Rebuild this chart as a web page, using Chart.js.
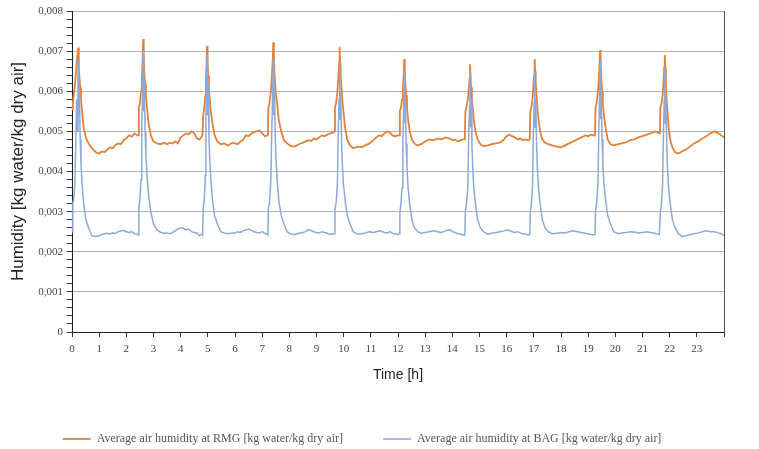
<!DOCTYPE html>
<html lang="en">
<head>
<meta charset="UTF-8">
<title>Humidity over 24 h</title>
<script src="https://cdn.jsdelivr.net/npm/chart.js"></script>
<style>
  body { margin: 0; background: #fff; }
  #wrap { width: 759px; height: 449px; }
</style>
</head>
<body>
<div id="wrap"><canvas id="humChart" width="759" height="449"></canvas></div>
<script>
// time axis [h], one row per drying cycle
const hours = [
  0, 0.03, 0.06, 0.1, 0.14, 0.17, 0.2, 0.22, 0.23, 0.25, 0.27, 0.3, 0.33, 0.37, 0.43, 0.51, 0.61, 0.73, 0.88, 1.0, 1.1, 1.2, 1.3, 1.4, 1.5, 1.6, 1.7, 1.8, 1.9, 2.0, 2.1, 2.2, 2.3, 2.4,
  2.44, 2.46, 2.5, 2.54, 2.57, 2.6, 2.62, 2.64, 2.66, 2.69, 2.72, 2.76, 2.82, 2.9, 3.0, 3.12, 3.27, 3.4, 3.5, 3.6, 3.7, 3.8, 3.9, 4.0, 4.1, 4.2, 4.3, 4.4, 4.5, 4.6, 4.7, 4.8,
  4.81, 4.83, 4.87, 4.91, 4.93, 4.95, 4.97, 4.99, 5.01, 5.04, 5.07, 5.11, 5.17, 5.25, 5.35, 5.47, 5.6, 5.75, 5.9, 6.0, 6.1, 6.2, 6.3, 6.4, 6.5, 6.6, 6.7, 6.8, 6.9, 7.0, 7.1, 7.2,
  7.21, 7.23, 7.27, 7.32, 7.36, 7.39, 7.41, 7.43, 7.45, 7.48, 7.51, 7.55, 7.61, 7.7, 7.8, 7.92, 8.05, 8.2, 8.35, 8.5, 8.6, 8.7, 8.8, 8.9, 9.0, 9.1, 9.2, 9.3, 9.4, 9.5, 9.6,
  9.66, 9.68, 9.72, 9.77, 9.8, 9.83, 9.85, 9.87, 9.89, 9.92, 9.95, 9.99, 10.05, 10.13, 10.23, 10.35, 10.5, 10.65, 10.8, 10.95, 11.1, 11.2, 11.3, 11.4, 11.5, 11.6, 11.7, 11.8, 11.9, 12.0,
  12.05, 12.07, 12.11, 12.15, 12.18, 12.21, 12.23, 12.25, 12.27, 12.3, 12.33, 12.37, 12.43, 12.51, 12.6, 12.72, 12.85, 13.0, 13.15, 13.3, 13.45, 13.6, 13.75, 13.9, 14.0, 14.1, 14.2, 14.3, 14.4,
  14.46, 14.48, 14.52, 14.57, 14.6, 14.63, 14.65, 14.67, 14.69, 14.72, 14.75, 14.79, 14.85, 14.93, 15.03, 15.15, 15.3, 15.45, 15.6, 15.75, 15.9, 16.0, 16.1, 16.2, 16.3, 16.4, 16.5, 16.6, 16.7, 16.8,
  16.85, 16.87, 16.91, 16.95, 16.98, 17.01, 17.03, 17.05, 17.07, 17.1, 17.13, 17.17, 17.23, 17.31, 17.41, 17.53, 17.68, 17.85, 18.0, 18.15, 18.3, 18.45, 18.6, 18.75, 18.9, 19.0, 19.1, 19.2,
  19.25, 19.27, 19.31, 19.36, 19.39, 19.42, 19.44, 19.46, 19.48, 19.51, 19.54, 19.58, 19.64, 19.72, 19.82, 19.94, 20.1, 20.25, 20.4, 20.55, 20.7, 20.85, 21.0, 21.15, 21.3, 21.45, 21.55, 21.62,
  21.64, 21.66, 21.7, 21.74, 21.77, 21.8, 21.82, 21.84, 21.86, 21.89, 21.92, 21.96, 22.02, 22.1, 22.2, 22.32, 22.45, 22.6, 22.75, 22.9, 23.05, 23.2, 23.35, 23.5, 23.65, 23.8, 23.9, 24.0
];

// average air humidity at RMG [kg water/kg dry air]
const rmgHumidity = [
  0.00555, 0.0057, 0.0059, 0.0061, 0.0064, 0.0067, 0.0069, 0.0068, 0.00709, 0.0066, 0.0064, 0.0061, 0.0058, 0.0055, 0.0051, 0.00485, 0.0047, 0.00458, 0.00448, 0.00445, 0.0045, 0.00448, 0.00455, 0.0046, 0.00458, 0.00466, 0.0047, 0.00468, 0.00478, 0.00483, 0.0049, 0.00487, 0.00495, 0.0049,
  0.0049, 0.0056, 0.0057, 0.006, 0.0063, 0.0068, 0.0073, 0.0069, 0.0065, 0.0062, 0.0059, 0.0056, 0.0052, 0.0049, 0.00475, 0.0047, 0.00468, 0.00472, 0.00468, 0.00472, 0.0047, 0.00475, 0.0047, 0.00485, 0.0049, 0.00495, 0.00493, 0.005, 0.00495, 0.00482, 0.0048, 0.0049,
  0.0049, 0.0054, 0.0056, 0.0059, 0.0063, 0.0067, 0.00713, 0.0068, 0.0064, 0.0061, 0.0058, 0.0055, 0.0052, 0.0049, 0.00475, 0.00468, 0.0047, 0.00465, 0.00472, 0.0047, 0.00468, 0.00475, 0.0048, 0.0049, 0.00488, 0.00495, 0.00498, 0.005, 0.00502, 0.00495, 0.00488, 0.0049,
  0.00492, 0.0056, 0.0057, 0.006, 0.0064, 0.0068, 0.00722, 0.0069, 0.0065, 0.0062, 0.0059, 0.0057, 0.0053, 0.005, 0.00478, 0.0047, 0.00464, 0.00462, 0.00468, 0.00472, 0.00475, 0.00478, 0.00476, 0.00482, 0.0048, 0.00485, 0.0049, 0.00488, 0.00492, 0.00495, 0.00497,
  0.005, 0.0056, 0.0057, 0.006, 0.0063, 0.0067, 0.0071, 0.0067, 0.0064, 0.0061, 0.0058, 0.0055, 0.0051, 0.0048, 0.00465, 0.00458, 0.00462, 0.0046, 0.00465, 0.0047, 0.00478, 0.00485, 0.0049, 0.00488, 0.00495, 0.005, 0.00497, 0.0049, 0.00488, 0.0049,
  0.0049, 0.0055, 0.0056, 0.0058, 0.0061, 0.0064, 0.0068, 0.0065, 0.0062, 0.0059, 0.0056, 0.0053, 0.005, 0.0048, 0.0047, 0.00465, 0.00468, 0.00475, 0.0048, 0.00478, 0.00482, 0.0048, 0.00485, 0.00482, 0.00478, 0.0048, 0.00475, 0.00478, 0.0048,
  0.0048, 0.0055, 0.0056, 0.0058, 0.006, 0.0063, 0.00667, 0.0064, 0.0061, 0.0058, 0.0056, 0.0053, 0.005, 0.0048, 0.00468, 0.00463, 0.00465, 0.00468, 0.0047, 0.00472, 0.0048, 0.00488, 0.00492, 0.00488, 0.00485, 0.0048, 0.00482, 0.00478, 0.0048, 0.00478,
  0.0048, 0.0055, 0.0056, 0.0058, 0.0061, 0.0064, 0.0068, 0.0065, 0.0062, 0.0059, 0.0056, 0.0053, 0.005, 0.0048, 0.00472, 0.00468, 0.00465, 0.00462, 0.0046, 0.00465, 0.0047, 0.00475, 0.0048, 0.00485, 0.0049, 0.00488, 0.00492, 0.0049,
  0.0049, 0.0056, 0.0057, 0.006, 0.0063, 0.0067, 0.00703, 0.0067, 0.0064, 0.006, 0.0057, 0.0054, 0.0051, 0.0048, 0.00468, 0.00465, 0.00468, 0.0047, 0.00473, 0.00478, 0.0048, 0.00485, 0.00488, 0.00492, 0.00495, 0.005, 0.00498, 0.00495,
  0.005, 0.0056, 0.0057, 0.0059, 0.0062, 0.0066, 0.0069, 0.0066, 0.0062, 0.0058, 0.0055, 0.0051, 0.0048, 0.0046, 0.00448, 0.00445, 0.0045, 0.00455, 0.00462, 0.0047, 0.00475, 0.00482, 0.00488, 0.00495, 0.005, 0.00495, 0.0049, 0.00485
];

// average air humidity at BAG [kg water/kg dry air]
const bagHumidity = [
  0.0025, 0.0032, 0.0033, 0.0036, 0.0047, 0.0058, 0.005, 0.0064, 0.0068, 0.0054, 0.0061, 0.0048, 0.0042, 0.0037, 0.0032, 0.0028, 0.0026, 0.0024, 0.00238, 0.0024, 0.00243, 0.00245, 0.00246, 0.00244, 0.00247, 0.00246, 0.0025, 0.00252, 0.00253, 0.0025, 0.00248, 0.0025, 0.00245, 0.00244,
  0.00242, 0.0031, 0.0033, 0.0038, 0.0052, 0.006, 0.007, 0.0055, 0.0063, 0.005, 0.0044, 0.0039, 0.0034, 0.003, 0.0027, 0.00255, 0.00248, 0.00246, 0.00247, 0.00245, 0.00248, 0.00252, 0.00257, 0.0026, 0.00258, 0.00255, 0.00256, 0.0025, 0.00248, 0.00247, 0.0024, 0.00245,
  0.00243, 0.0031, 0.0033, 0.0039, 0.0053, 0.0061, 0.0069, 0.0054, 0.0062, 0.0049, 0.0043, 0.0038, 0.0033, 0.0029, 0.0027, 0.0025, 0.00247, 0.00245, 0.00247, 0.00246, 0.0025, 0.00248, 0.00252, 0.00255, 0.00256, 0.00254, 0.0025, 0.00248, 0.00247, 0.0025, 0.00246, 0.00243,
  0.00242, 0.0031, 0.0032, 0.0038, 0.0052, 0.006, 0.0068, 0.0054, 0.0062, 0.0049, 0.0043, 0.0038, 0.0033, 0.0029, 0.0027, 0.0025, 0.00244, 0.00243, 0.00246, 0.00248, 0.0025, 0.00255, 0.00253, 0.0025, 0.00248, 0.00247, 0.0025, 0.00248, 0.00246, 0.00243, 0.00245,
  0.00245, 0.0031, 0.0032, 0.0037, 0.005, 0.0058, 0.00672, 0.0053, 0.006, 0.0048, 0.0042, 0.0037, 0.0033, 0.0029, 0.0027, 0.0025, 0.00244, 0.00245, 0.00247, 0.0025, 0.00248, 0.0025, 0.00252, 0.00251, 0.00248, 0.00247, 0.0025, 0.00246, 0.00244, 0.00243,
  0.00245, 0.003, 0.0032, 0.0036, 0.0048, 0.0056, 0.0065, 0.0052, 0.0058, 0.0047, 0.0041, 0.0036, 0.0032, 0.0028, 0.0026, 0.0025, 0.00246, 0.00248, 0.0025, 0.00252, 0.0025, 0.00248, 0.00252, 0.00255, 0.0025, 0.00248, 0.00245, 0.00244, 0.00242,
  0.00242, 0.003, 0.0032, 0.0036, 0.0048, 0.0056, 0.0065, 0.0051, 0.0058, 0.0047, 0.0041, 0.0036, 0.0032, 0.0028, 0.0026, 0.0025, 0.00244, 0.00246, 0.00248, 0.0025, 0.00252, 0.00255, 0.00253, 0.0025, 0.00248, 0.0025, 0.00247, 0.00245, 0.00244, 0.00242,
  0.00243, 0.003, 0.0032, 0.0036, 0.0049, 0.0057, 0.0065, 0.0051, 0.0058, 0.0047, 0.0041, 0.0036, 0.0032, 0.0028, 0.0026, 0.0025, 0.00245, 0.00246, 0.00248, 0.00247, 0.0025, 0.00252, 0.0025, 0.00248, 0.00246, 0.00245, 0.00243, 0.00242,
  0.00243, 0.003, 0.0032, 0.0037, 0.005, 0.0059, 0.0068, 0.0053, 0.006, 0.0048, 0.0042, 0.0037, 0.0033, 0.0029, 0.0027, 0.0025, 0.00245, 0.00247, 0.00248, 0.0025, 0.00249, 0.00247, 0.00248, 0.0025, 0.00248, 0.00246, 0.00244, 0.00243,
  0.00243, 0.003, 0.0032, 0.0037, 0.0049, 0.0058, 0.0066, 0.0052, 0.0059, 0.0047, 0.0041, 0.0036, 0.0032, 0.0028, 0.0026, 0.00245, 0.00238, 0.0024, 0.00243, 0.00245, 0.00247, 0.0025, 0.00252, 0.0025, 0.0025, 0.00247, 0.00245, 0.0024
];

const seriesNames = [
  'Average air humidity at RMG [kg water/kg dry air]',
  'Average air humidity at BAG [kg water/kg dry air]'
];

const serif = "'Liberation Serif', 'Times New Roman', serif";
const sans = "'Liberation Sans', Arial, sans-serif";

function toPoints(values) {
  return hours.map((h, i) => ({ x: h, y: values[i] }));
}

// 0,001 style labels, only on every fifth (major) tick
function isMajor(v) {
  return Math.round(v * 10000) % 10 === 0;
}

const ctx = document.getElementById('humChart').getContext('2d');
new Chart(ctx, {
  type: 'line',
  data: {
    datasets: [
      {
        label: seriesNames[0],
        data: toPoints(rmgHumidity),
        borderColor: '#E3813A',
        backgroundColor: '#E3813A',
        borderWidth: 1.8,
        pointRadius: 0,
        tension: 0,
        order: 1
      },
      {
        label: seriesNames[1],
        data: toPoints(bagHumidity),
        borderColor: '#8DA9D8',
        backgroundColor: '#8DA9D8',
        borderWidth: 1.5,
        pointRadius: 0,
        tension: 0,
        order: 0
      }
    ]
  },
  options: {
    responsive: false,
    animation: false,
    layout: { padding: { top: 11, right: 35, left: 0, bottom: 0 } },
    plugins: {
      tooltip: { enabled: false },
      legend: {
        position: 'bottom',
        maxHeight: 56,
        labels: {
          usePointStyle: true,
          pointStyle: 'line',
          pointStyleWidth: 28,
          padding: 40,
          color: '#555',
          font: { family: serif, size: 12 },
          sort: (a, b) => a.datasetIndex - b.datasetIndex
        }
      }
    },
    scales: {
      x: {
        type: 'linear',
        min: 0,
        max: 24,
        afterFit: s => { s.height = 61; },
        ticks: {
          stepSize: 1,
          autoSkip: false,
          maxRotation: 0,
          padding: 6,
          color: '#444',
          font: { family: serif, size: 11 },
          callback: v => (v < 24 ? String(v) : '')
        },
        grid: { drawOnChartArea: false, tickLength: 5, tickColor: '#333' },
        border: { color: '#222', width: 1 },
        title: {
          display: true,
          text: 'Time [h]',
          color: '#222',
          font: { family: sans, size: 14 },
          padding: { top: 4, bottom: 9 }
        }
      },
      y: {
        min: 0,
        max: 0.008,
        afterFit: s => { s.width = 72; },
        ticks: {
          stepSize: 0.0002,
          autoSkip: false,
          padding: 4,
          color: '#444',
          font: { family: serif, size: 11 },
          callback: v => {
            if (!isMajor(v)) return '';
            const n = Math.round(v * 1000);
            return n === 0 ? '0' : (n / 1000).toFixed(3).replace('.', ',');
          }
        },
        grid: {
          color: c => (c.tick && isMajor(c.tick.value) ? '#b4b4b4' : 'rgba(0,0,0,0)'),
          tickColor: '#333',
          tickLength: 5
        },
        border: { color: '#222' },
        title: {
          display: true,
          text: 'Humidity [kg water/kg dry air]',
          color: '#222',
          font: { family: sans, size: 17 },
          padding: { top: 8, bottom: 0 }
        }
      },
      yRight: {
        position: 'right',
        min: 0,
        max: 0.008,
        afterFit: s => { s.width = 0; },
        ticks: { display: false },
        grid: { drawOnChartArea: false, drawTicks: false },
        border: { color: '#555' }
      }
    }
  }
});
</script>
</body>
</html>
